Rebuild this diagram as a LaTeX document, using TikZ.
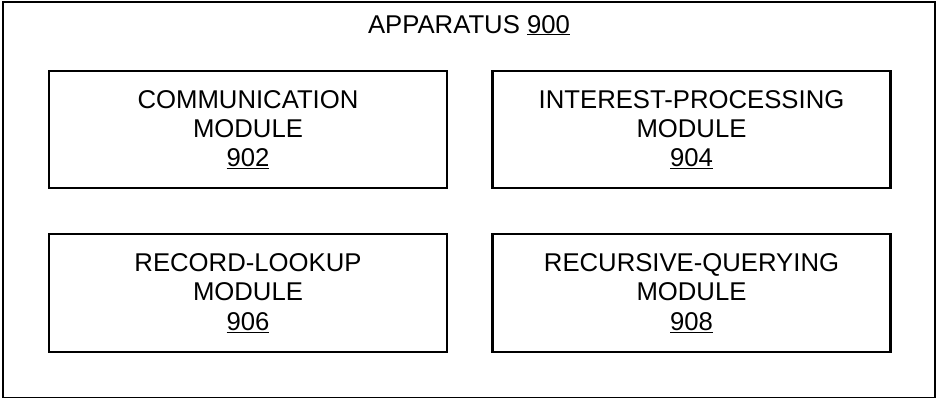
\documentclass[tikz,border=0pt]{standalone}
\usepackage{fontspec}
\setmainfont{Liberation Sans}

\begin{document}
\begin{tikzpicture}[x=1pt,y=-1pt,
    font=\fontsize{25.7}{29.3}\selectfont,
    modbox/.style={draw,line width=2.8pt,minimum width=398pt,minimum height=117pt,
      align=center,inner sep=0pt}]
  \useasboundingbox (0,0) rectangle (937,397);
  % outer apparatus frame and its title
  \node[draw,line width=2.8pt,minimum width=932pt,minimum height=396pt,inner sep=0pt]
    (apparatus) at (469,200) {};
  \node[anchor=base] (title) at (469,33) {APPARATUS \underline{900}};
  % modules
  \node[modbox] (comm)  at (248,129.5)   {COMMUNICATION\\MODULE\\\underline{902}};
  \node[modbox] (intp)  at (691.5,129.5) {INTEREST-PROCESSING\\MODULE\\\underline{904}};
  \node[modbox,minimum height=118pt] (reclk) at (248,293)   {RECORD-LOOKUP\\MODULE\\\underline{906}};
  \node[modbox,minimum height=118pt] (recq)  at (691.5,293) {RECURSIVE-QUERYING\\MODULE\\\underline{908}};
\end{tikzpicture}
\end{document}
